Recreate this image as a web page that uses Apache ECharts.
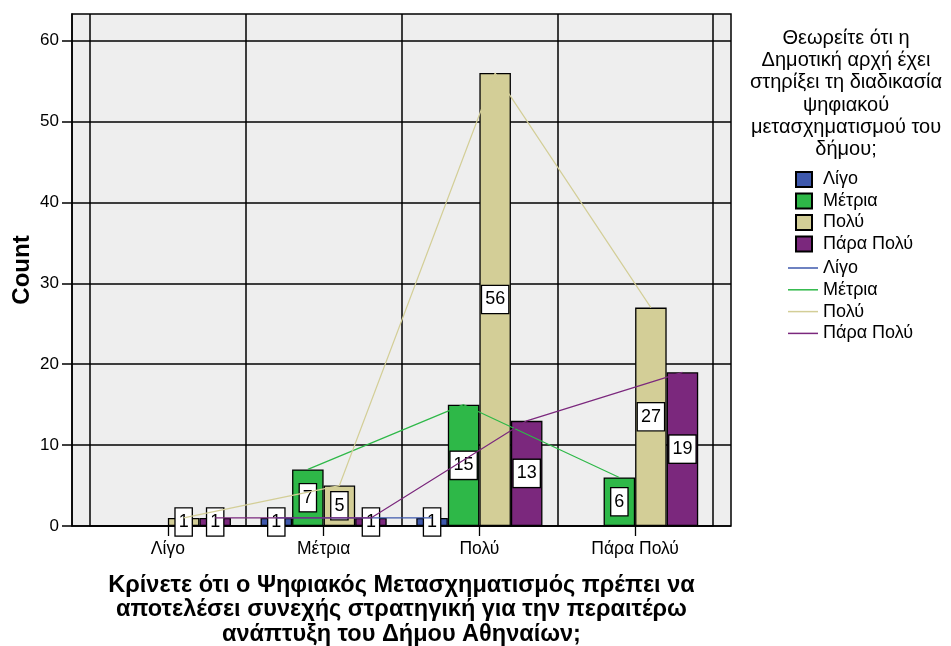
<!DOCTYPE html>
<html>
<head>
<meta charset="utf-8">
<script src="https://cdn.jsdelivr.net/npm/echarts@6/dist/echarts.min.js"></script>
<style>html,body{margin:0;padding:0;background:#fff}#c{width:951px;height:646px}</style>
</head>
<body>
<div id="c"></div>
<script>
const categories = ['Λίγο', 'Μέτρια', 'Πολύ', 'Πάρα Πολύ'];
const seriesNames = ['Λίγο', 'Μέτρια', 'Πολύ', 'Πάρα Πολύ'];
const valuesLigo = [null, 1, 1, null];
const valuesMetria = [null, 7, 15, 6];
const valuesPoly = [1, 5, 56, 27];
const valuesParaPoly = [1, 1, 13, 19];
const yTicks = [0, 10, 20, 30, 40, 50, 60];
const yTitle = 'Count';
const xTitle = 'Κρίνετε ότι ο Ψηφιακός Μετασχηματισμός πρέπει να\nαποτελέσει συνεχής στρατηγική για την περαιτέρω\nανάπτυξη του Δήμου Αθηναίων;';
const legendTitle = 'Θεωρείτε ότι η\nΔημοτική αρχή έχει\nστηρίξει τη διαδικασία\nψηφιακού\nμετασχηματισμού του\nδήμου;';

const allValues = [valuesLigo, valuesMetria, valuesPoly, valuesParaPoly];
const barColors = ['#3e58ac', '#2eb848', '#d3ce97', '#7b287d'];
const FONT = '"Liberation Sans", Arial, sans-serif';
const CAT_GAP = 0.19;
const YMAX = 63.3;
const barFrac = (1 - CAT_GAP) / allValues.length;

const series = [];
allValues.forEach((vals, k) => {
  series.push({
    name: seriesNames[k], type: 'bar', xAxisIndex: 1, yAxisIndex: 1,
    barGap: 0, barCategoryGap: (CAT_GAP * 100) + '%',
    data: vals,
    itemStyle: { color: barColors[k], borderColor: '#000', borderWidth: 1.3 },
    label: {
      show: true, position: 'inside', color: '#000', fontFamily: FONT, fontSize: 18,
      backgroundColor: '#fff', borderColor: '#000', borderWidth: 1.3,
      padding: [5, 3, 4, 3], formatter: p => p.value == null ? '' : String(p.value)
    },
    z: 2
  });
});
allValues.forEach((vals, k) => {
  const pts = [];
  vals.forEach((v, i) => { if (v != null) pts.push([i + (k - 1.5) * barFrac, v]); });
  series.push({
    name: seriesNames[k] + ' ', type: 'line', xAxisIndex: 2, yAxisIndex: 1,
    data: pts, symbol: 'none', showSymbol: false,
    lineStyle: { color: barColors[k], width: 1.2 }, itemStyle: { color: barColors[k] },
    z: 5
  });
});

const chart = echarts.init(document.getElementById('c'), null, { renderer: 'canvas' });
chart.setOption({
  animation: false,
  grid: [
    { left: 72, right: 220, top: 14, bottom: 120, show: true, backgroundColor: '#eeeeee', borderColor: '#000', borderWidth: 1.5, outerBoundsMode: 'none', containLabel: false },
    { left: 90, right: 238, top: 14, bottom: 120, outerBoundsMode: 'none', containLabel: false }
  ],
  xAxis: [
    { gridIndex: 0, type: 'value', min: 0, max: 1, show: false },
    {
      gridIndex: 1, type: 'category', data: categories, boundaryGap: true,
      axisLine: { show: true, lineStyle: { color: '#000', width: 1.5 } },
      axisTick: { show: true, alignWithLabel: true, length: 10, lineStyle: { color: '#000', width: 1.3 } },
      splitLine: { show: true, lineStyle: { color: '#000', width: 1.5 } },
      axisLabel: { color: '#000', fontFamily: FONT, fontSize: 17.5, margin: 14 },
      name: xTitle, nameLocation: 'middle', nameGap: 47,
      nameTextStyle: { color: '#000', fontFamily: FONT, fontSize: 23.5, fontWeight: 'bold', lineHeight: 24.5 }
    },
    { gridIndex: 1, type: 'value', min: -0.5, max: categories.length - 0.5, show: false }
  ],
  yAxis: [
    {
      gridIndex: 0, type: 'value', min: 0, max: YMAX, interval: 10,
      axisLine: { show: true, lineStyle: { color: '#000', width: 1.5 } },
      axisTick: { show: true, length: 10, customValues: yTicks, lineStyle: { color: '#000', width: 1.5 } },
      axisLabel: { customValues: yTicks, color: '#000', fontFamily: FONT, fontSize: 17, margin: 13 },
      splitLine: { show: true, lineStyle: { color: '#000', width: 1.5 } },
      name: yTitle, nameLocation: 'middle', nameGap: 38, nameRotate: 90, nameMoveOverlap: false,
      nameTextStyle: { color: '#000', fontFamily: FONT, fontSize: 24, fontWeight: 'bold' }
    },
    { gridIndex: 1, type: 'value', min: 0, max: YMAX, show: false }
  ],
  legend: [
    {
      data: seriesNames.map(n => ({ name: n, icon: 'rect' })), orient: 'vertical', left: 795, top: 170.5, padding: 0,
      itemWidth: 16, itemHeight: 15, itemGap: 3.5,
      textStyle: { color: '#000', fontFamily: FONT, fontSize: 18, padding: [0, 0, 0, 6] },
      selectedMode: false
    },
    {
      data: seriesNames.map(n => ({ name: n + ' ', icon: 'rect' })), orient: 'vertical', left: 788, top: 259, padding: 0,
      itemWidth: 30, itemHeight: 1.5, itemGap: 3.8,
      formatter: n => n.trim(),
      textStyle: { color: '#000', fontFamily: FONT, fontSize: 18 },
      selectedMode: false
    }
  ],
  graphic: [{
    type: 'text', x: 846, y: 27, z: 10,
    style: { text: legendTitle, align: 'center', fill: '#000', font: '20px ' + FONT, lineHeight: 22.3 }
  }],
  series: series
});
</script>
</body>
</html>
